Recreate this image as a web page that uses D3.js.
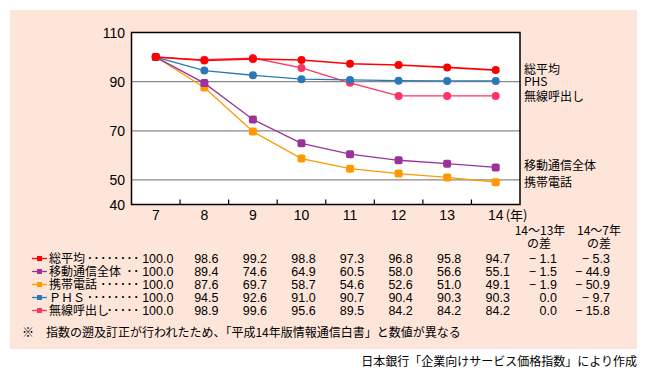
<!DOCTYPE html>
<html>
<head>
<meta charset="utf-8">
<script src="https://cdn.jsdelivr.net/npm/d3@7"></script>
<style>
  body { margin: 0; background: #fff; }
  text { font-family: "Noto Sans CJK JP", "Liberation Sans", sans-serif; fill: #000; }
  .num { font-family: "Liberation Sans", sans-serif; }
</style>
</head>
<body>
<svg></svg>
<script>
// data
let years = ["7", "8", "9", "10", "11", "12", "13", "14"]
let yTicks = [40, 50, 70, 90, 110]
let gridVals = [50, 70, 90]

let names = ["総平均", "移動通信全体", "携帯電話", "ＰＨＳ", "無線呼出し"]
let sideNames = ["総平均", "PHS", "無線呼出し", "移動通信全体", "携帯電話"]
let leaders = [8, 2, 6, 8, 5]
let colors = ["#ff0000", "#993399", "#ff9900", "#2a78b8", "#ff3366"]
let shapes = ["circle", "square", "square", "circle", "circle"]

let sohei = [100.0, 98.6, 99.2, 98.8, 97.3, 96.8, 95.8, 94.7]
let idou = [100.0, 89.4, 74.6, 64.9, 60.5, 58.0, 56.6, 55.1]
let keitai = [100.0, 87.6, 69.7, 58.7, 54.6, 52.6, 51.0, 49.1]
let phs = [100.0, 94.5, 92.6, 91.0, 90.7, 90.4, 90.3, 90.3]
let musen = [100.0, 98.9, 99.6, 95.6, 89.5, 84.2, 84.2, 84.2]

let diff1413 = [-1.1, -1.5, -1.9, 0.0, 0.0]
let diff147 = [-5.3, -44.9, -50.9, -9.7, -15.8]

let series = [sohei, idou, keitai, phs, musen]
let drawOrder = [4, 3, 2, 1, 0]

// sizes
let w = 647
let h = 378
let pLeft = 131.5
let pRight = 520
let pTop = 32.5
let pBottom = 204.5

let svg = d3.select("svg").attr("width", w).attr("height", h)

// panel
svg.append("rect")
   .attr("x", 10).attr("y", 10)
   .attr("width", 627).attr("height", 339)
   .attr("fill", "#fde5da")

let xScale = d3.scaleBand().domain(years).range([pLeft, pRight])
let yScale = d3.scaleLinear().domain([40, 110]).range([pBottom, pTop])
let xc = (i) => xScale(years[i]) + xScale.bandwidth() / 2

svg.append("rect")
   .attr("x", pLeft).attr("y", pTop)
   .attr("width", pRight - pLeft).attr("height", pBottom - pTop)
   .attr("fill", "#fff")

svg.selectAll(".grid")
   .data(gridVals)
   .enter()
   .append("line")
   .attr("class", "grid")
   .attr("x1", pLeft).attr("x2", pRight)
   .attr("y1", (d) => yScale(d)).attr("y2", (d) => yScale(d))
   .attr("stroke", "#888").attr("stroke-width", 1.2)

// bottom ticks between categories
svg.selectAll(".xtick")
   .data(years.slice(1))
   .enter()
   .append("line")
   .attr("class", "xtick")
   .attr("x1", (d) => xScale(d)).attr("x2", (d) => xScale(d))
   .attr("y1", pBottom).attr("y2", pBottom - 5)
   .attr("stroke", "#000").attr("stroke-width", 1.2)

svg.append("rect")
   .attr("x", pLeft).attr("y", pTop)
   .attr("width", pRight - pLeft).attr("height", pBottom - pTop)
   .attr("fill", "none").attr("stroke", "#000").attr("stroke-width", 1.5)

svg.selectAll(".ylab")
   .data(yTicks)
   .enter()
   .append("text")
   .attr("class", "ylab num")
   .attr("x", 125)
   .attr("y", (d) => yScale(d) + 5)
   .attr("text-anchor", "end")
   .attr("font-size", 14)
   .text((d) => d)

svg.selectAll(".xlab")
   .data(years)
   .enter()
   .append("text")
   .attr("class", "xlab num")
   .attr("x", (d, i) => xc(i))
   .attr("y", 220)
   .attr("text-anchor", "middle")
   .attr("font-size", 14)
   .text((d) => d)

svg.append("text")
   .attr("x", xc(7) + 10).attr("y", 220)
   .attr("font-size", 13)
   .text("(年)")

// lines
let line = d3.line()
             .x((d, i) => xc(i))
             .y((d) => yScale(d))

drawOrder.forEach((k) => {
  let g = svg.append("g")
  g.append("path")
   .datum(series[k])
   .attr("d", line)
   .attr("fill", "none")
   .attr("stroke", colors[k])
   .attr("stroke-width", k === 0 ? 1.6 : 1.3)
  if (shapes[k] === "circle") {
    g.selectAll("circle")
     .data(series[k])
     .enter()
     .append("circle")
     .attr("cx", (d, i) => xc(i))
     .attr("cy", (d) => yScale(d))
     .attr("r", 4)
     .attr("fill", colors[k])
  } else {
    g.selectAll("rect")
     .data(series[k])
     .enter()
     .append("rect")
     .attr("x", (d, i) => xc(i) - 4)
     .attr("y", (d) => yScale(d) - 4)
     .attr("width", 8).attr("height", 8)
     .attr("rx", 2)
     .attr("fill", colors[k])
  }
})

// right side labels
let sideY = [74, 86, 101, 170, 187]
svg.selectAll(".side")
   .data(sideNames)
   .enter()
   .append("text")
   .attr("class", "side")
   .attr("x", 524)
   .attr("y", (d, i) => sideY[i])
   .attr("font-size", 12)
   .text((d) => d)

// table
let rowY = (i) => 263 + i * 13

svg.append("text").attr("x", 540).attr("y", 235).attr("text-anchor", "middle").attr("font-size", 12).text("14～13年")
svg.append("text").attr("x", 599).attr("y", 235).attr("text-anchor", "middle").attr("font-size", 12).text("14～7年")
svg.append("text").attr("x", 539).attr("y", 248).attr("text-anchor", "middle").attr("font-size", 12).text("の差")
svg.append("text").attr("x", 599).attr("y", 248).attr("text-anchor", "middle").attr("font-size", 12).text("の差")

let fmt = (v) => v < 0 ? "− " + Math.abs(v).toFixed(1) : v.toFixed(1)

names.forEach((n, k) => {
  let y = rowY(k)
  svg.append("line")
     .attr("x1", 32).attr("x2", 47)
     .attr("y1", y - 4.5).attr("y2", y - 4.5)
     .attr("stroke", colors[k]).attr("stroke-width", 1.3)
  svg.append("rect")
     .attr("x", 37).attr("y", y - 7)
     .attr("width", 5).attr("height", 5)
     .attr("fill", colors[k])
  svg.append("text")
     .attr("x", 49).attr("y", y)
     .attr("font-size", 12)
     .text(n)
  svg.append("text")
     .attr("class", "num")
     .attr("x", 141).attr("y", y - 1)
     .attr("text-anchor", "end")
     .attr("font-size", 12)
     .attr("font-weight", "bold")
     .attr("letter-spacing", 2.6)
     .text("·".repeat(leaders[k]))
  svg.selectAll(".v" + k)
     .data(series[k])
     .enter()
     .append("text")
     .attr("class", "num")
     .attr("x", (d, i) => xc(i) + 2)
     .attr("y", y)
     .attr("text-anchor", "middle")
     .attr("font-size", 12.5)
     .text((d) => d.toFixed(1))
  svg.append("text")
     .attr("class", "num")
     .attr("x", 557).attr("y", y)
     .attr("text-anchor", "end")
     .attr("font-size", 12.5)
     .text(fmt(diff1413[k]))
  svg.append("text")
     .attr("class", "num")
     .attr("x", 610).attr("y", y)
     .attr("text-anchor", "end")
     .attr("font-size", 12.5)
     .text(fmt(diff147[k]))
})

svg.append("text")
   .attr("x", 22).attr("y", 337)
   .attr("font-size", 12)
   .text("※")
svg.append("text")
   .attr("x", 46).attr("y", 337)
   .attr("font-size", 12)
   .text("指数の遡及訂正が行われたため、「平成14年版情報通信白書」と数値が異なる")

svg.append("text")
   .attr("x", 637).attr("y", 366)
   .attr("text-anchor", "end")
   .attr("font-size", 12)
   .text("日本銀行「企業向けサービス価格指数」により作成")
</script>
</body>
</html>
